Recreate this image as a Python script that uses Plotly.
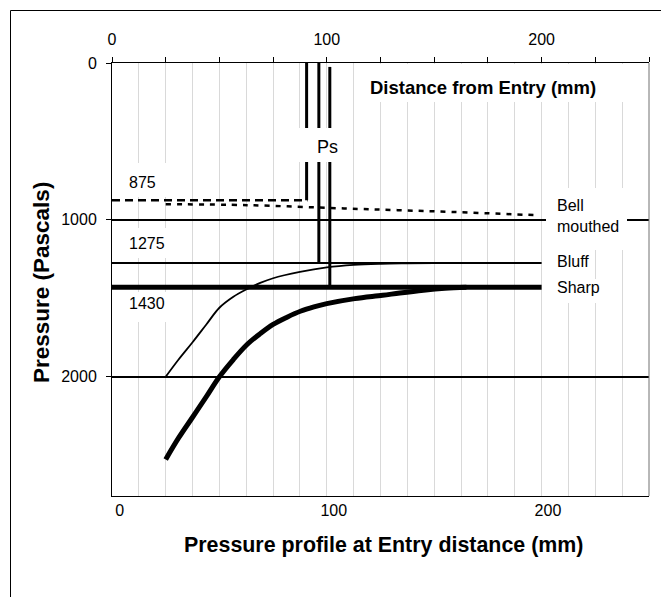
import plotly.graph_objects as go

# ---------------- data ----------------
# static pressure levels (Pa) for Bell mouthed, Bluff, Sharp entries
levels = [875, 1275, 1430]
level_names = ["Bell<br>mouthed", "Bluff", "Sharp"]
# Ps tapping lines: x position (mm) and top of each line (Pa)
ps_x = [90.6, 96.3, 101.4]
ps_top = [0, 0, 25]
# extent of the horizontal level lines (mm)
level_line_x = [0, 200]
bell_ref_x = [0, 91]

# Bell mouthed pressure profile (dotted)
bell_x = [25, 63, 108, 133, 158, 197.5]
bell_y = [900, 906, 927, 938, 949, 970]

# Bluff pressure profile (thin)
bluff_x = [25, 31, 37.5, 44, 50, 56.5, 63, 69, 75, 87.5, 100, 112.5, 125, 137.5, 150]
bluff_y = [2000, 1890, 1780, 1665, 1560, 1490, 1440, 1402, 1372, 1332, 1303, 1287, 1280, 1277, 1275]

# Sharp pressure profile (thick)
sharp_x = [25, 31, 37.5, 44, 50, 56.5, 63, 69, 75, 81.5, 88, 94, 100, 113, 126, 134, 145, 155, 165]
sharp_y = [2527, 2390, 2258, 2125, 2000, 1890, 1793, 1725, 1666, 1620, 1581, 1555, 1534, 1502,
           1481, 1466, 1448, 1436, 1430]

top_tick_vals = [0, 25, 50, 75, 100, 125, 150, 175, 200, 225, 250]
top_tick_text = ["0", "", "", "", "100", "", "", "", "200", "", ""]
bottom_tick_vals = [0, 100, 200]
bottom_tick_text = ["0", "100", "200"]
y_tick_vals = [0, 1000, 2000]
y_tick_text = ["0", "1000", "2000"]

# ---------------- layout geometry (page pixel coordinates) ----------------
W, H = 669, 597
OFF = 8                      # page body margin of the html output
PL, PR, PT, PB = 112, 649, 63, 496
FONT = "Liberation Sans, Arial, sans-serif"
FW, FH = W - OFF, H - OFF


def xp(px):
    return (px - PL) / (PR - PL)


def yp(py):
    return (PB - py) / (PB - PT)


fig = go.Figure()

# Bell mouthed reference level (dashed)
fig.add_trace(go.Scatter(x=bell_ref_x, y=[levels[0]] * 2, mode="lines",
                         line=dict(color="black", width=2.5, dash="8px,5px")))
# Bell mouthed curve (dotted)
fig.add_trace(go.Scatter(x=bell_x, y=bell_y, mode="lines", line_shape="spline",
                         line=dict(color="black", width=2.5, dash="5px,6px")))
# Bluff and Sharp levels
fig.add_trace(go.Scatter(x=level_line_x, y=[levels[1]] * 2, mode="lines",
                         line=dict(color="black", width=2)))
fig.add_trace(go.Scatter(x=level_line_x, y=[levels[2]] * 2, mode="lines",
                         line=dict(color="black", width=5)))
# curves
fig.add_trace(go.Scatter(x=bluff_x, y=bluff_y, mode="lines", line_shape="spline",
                         line=dict(color="black", width=1.8)))
fig.add_trace(go.Scatter(x=sharp_x, y=sharp_y, mode="lines", line_shape="spline",
                         line=dict(color="black", width=5)))
# Ps vertical lines
for xv, y0, y1 in zip(ps_x, ps_top, levels):
    fig.add_trace(go.Scatter(x=[xv, xv], y=[y0, y1], mode="lines",
                             line=dict(color="black", width=3)))

# helper trace so the bottom axis is drawn
fig.add_trace(go.Scatter(x=bottom_tick_vals, y=[None] * len(bottom_tick_vals),
                         xaxis="x2", mode="lines", hoverinfo="skip"))

tickfont = dict(family=FONT, size=16, color="black")

fig.update_layout(
    width=FW, height=FH,
    margin=dict(l=PL - OFF, r=W - PR, t=PT - OFF, b=H - PB, pad=0),
    paper_bgcolor="white", plot_bgcolor="white",
    showlegend=False,
    font=dict(family=FONT, color="black"),
    xaxis=dict(
        side="top", range=[0, 250], tickmode="array",
        tickvals=top_tick_vals, ticktext=top_tick_text,
        ticks="outside", ticklen=5, tickcolor="black", tickwidth=1,
        showline=True, linecolor="black", linewidth=1,
        showgrid=True, gridcolor="#d9d9d9", gridwidth=1,
        minor=dict(dtick=12.5, tick0=0, showgrid=True, gridcolor="#d9d9d9", gridwidth=1, ticks=""),
        zeroline=False, tickfont=tickfont, ticklabelstandoff=6,
    ),
    xaxis2=dict(
        overlaying="x", side="bottom", anchor="y", range=[-3.6, 247.2],
        tickmode="array", tickvals=bottom_tick_vals, ticktext=bottom_tick_text,
        ticks="", showline=True, linecolor="black", linewidth=1,
        showgrid=False, zeroline=False, tickfont=tickfont, ticklabelstandoff=0,
    ),
    yaxis=dict(
        range=[2760, 0], tickmode="array", tickvals=y_tick_vals, ticktext=y_tick_text,
        ticks="outside", ticklen=5, tickcolor="black",
        showline=True, linecolor="black", linewidth=1, mirror=False,
        showgrid=True, gridcolor="black", gridwidth=2, zeroline=False,
        tickfont=tickfont, ticklabelstandoff=6,
    ),
)

# white label boxes (cover grid lines as in the original)
boxes = [
    (362, 64, 628, 102),   # Distance from Entry
    (298, 128, 346, 162),  # Ps
    (116, 163, 180, 197),  # 875
    (116, 228, 180, 258),  # 1275
    (116, 292, 180, 322),  # 1430
    (546, 188, 627, 250),  # Bell mouthed
    (546, 250, 591, 279),  # Bluff
    (546, 279, 605, 303),  # Sharp
]
shapes = []
for x0, y0, x1, y1 in boxes:
    shapes.append(dict(type="rect", xref="paper", yref="paper", layer="above",
                       x0=xp(x0), x1=xp(x1), y0=yp(y1), y1=yp(y0),
                       fillcolor="white", line=dict(width=0)))
# right border of plot (grey)
shapes.append(dict(type="line", xref="paper", yref="paper", layer="above",
                   x0=1, x1=1, y0=0, y1=1, line=dict(color="#707070", width=1)))
# outer chart border
shapes.append(dict(type="rect", xref="paper", yref="paper", layer="below",
                   x0=xp(10.5), x1=xp(664.5), y0=yp(620), y1=yp(10.5),
                   fillcolor="rgba(0,0,0,0)", line=dict(color="black", width=1)))
fig.update_layout(shapes=shapes)

ann = []


def add_text(text, px, py, size=16, bold=False, xanchor="center", angle=0):
    ann.append(dict(text=f"<b>{text}</b>" if bold else text,
                    xref="paper", yref="paper", x=xp(px), y=yp(py),
                    xanchor=xanchor, yanchor="middle", showarrow=False,
                    textangle=angle, align="left",
                    font=dict(family=FONT, size=size, color="black")))


add_text("Distance from Entry (mm)", 483, 87, size=18.5, bold=True)
add_text("Ps", 327, 147, size=18)
for lv, ty in zip(levels, [182, 243, 303]):
    add_text(str(lv), 127, ty, size=16, xanchor="left")
for name, ty in zip(level_names, [216, 262, 287]):
    add_text(name, 555, ty, size=16, xanchor="left")
add_text("Pressure (Pascals)", 41, 283, size=22.5, bold=True, angle=-90)
add_text("Pressure profile at Entry distance (mm)", 383, 545, size=21.4, bold=True)
fig.update_layout(annotations=ann)

fig.write_html("out.html")
